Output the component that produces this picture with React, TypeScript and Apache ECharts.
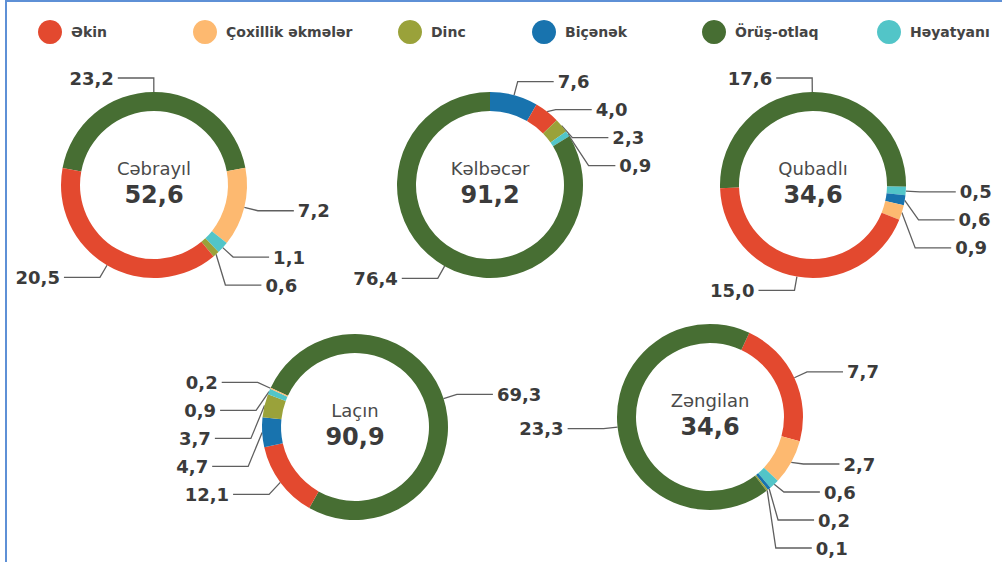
import React, { useEffect, useRef } from 'react';
import * as echarts from 'echarts';

// ---- data ----
const categories = ['Əkin', 'Çoxillik əkmələr', 'Dinc', 'Biçənək', 'Örüş-otlaq', 'Həyatyanı'];
const categoryColors = ['#e3492f', '#fdb970', '#9aa23a', '#1873ae', '#476e33', '#52c5c8'];

const regionNames = ['Cəbrayıl', 'Kəlbəcər', 'Qubadlı', 'Laçın', 'Zəngilan'];

const cebrayilOrder = ['Örüş-otlaq', 'Çoxillik əkmələr', 'Həyatyanı', 'Dinc', 'Əkin'];
const cebrayilValues = [23.2, 7.2, 1.1, 0.6, 20.5];

const kelbecerOrder = ['Biçənək', 'Əkin', 'Dinc', 'Həyatyanı', 'Örüş-otlaq'];
const kelbecerValues = [7.6, 4.0, 2.3, 0.9, 76.4];

const qubadliOrder = ['Örüş-otlaq', 'Həyatyanı', 'Biçənək', 'Çoxillik əkmələr', 'Əkin'];
const qubadliValues = [17.6, 0.5, 0.6, 0.9, 15.0];

const lacinOrder = ['Örüş-otlaq', 'Əkin', 'Biçənək', 'Dinc', 'Həyatyanı', 'Çoxillik əkmələr'];
const lacinValues = [69.3, 12.1, 4.7, 3.7, 0.9, 0.2];

const zengilanOrder = ['Əkin', 'Çoxillik əkmələr', 'Həyatyanı', 'Biçənək', 'Dinc', 'Örüş-otlaq'];
const zengilanValues = [7.7, 2.7, 0.6, 0.2, 0.1, 23.3];

const regionOrders = [cebrayilOrder, kelbecerOrder, qubadliOrder, lacinOrder, zengilanOrder];
const regionValues = [cebrayilValues, kelbecerValues, qubadliValues, lacinValues, zengilanValues];

// ---- layout (not data) ----
const pieCenters = [
  [154, 185],
  [490, 185],
  [813, 185],
  [355, 427],
  [710, 417],
];
const pieStartAngles = [169.5, 90, 182, 155, 65];
const legendLefts = [38, 193, 398, 532, 702, 877];

const FONT = '"DejaVu Sans", Verdana, sans-serif';

const fmt = (v: number) => v.toFixed(1).replace('.', ',');

export default function App() {
  const ref = useRef<HTMLDivElement>(null);

  useEffect(() => {
    if (!ref.current) return;
    const chart = echarts.init(ref.current, undefined, { renderer: 'svg' });
    const colorOf = (n: string) => categoryColors[categories.indexOf(n)];

    const series = regionNames.map((name, r) => ({
      type: 'pie',
      name,
      center: pieCenters[r],
      radius: [74, 93],
      startAngle: pieStartAngles[r],
      clockwise: true,
      avoidLabelOverlap: true,
      emphasis: { disabled: true },
      label: {
        show: true,
        position: 'outside',
        formatter: (p: any) => fmt(p.value),
        fontFamily: FONT,
        fontWeight: 'bold',
        fontSize: 18,
        lineHeight: 26,
        color: '#3b3b3b',
        alignTo: 'labelLine',
        distanceToLabelLine: 4,
      },
      labelLine: {
        show: true,
        length: 14,
        length2: 36,
        lineStyle: { color: '#5f5f5f', width: 1.3 },
      },
      itemStyle: { borderWidth: 0 },
      data: regionOrders[r].map((n, i) => ({
        name: n,
        value: regionValues[r][i],
        itemStyle: { color: colorOf(n) },
      })),
    }));

    const legends = categories.map((c, i) => ({
      show: true,
      left: legendLefts[i],
      top: 20,
      icon: 'circle',
      itemWidth: 24,
      itemHeight: 24,
      selectedMode: false,
      padding: 0,
      data: [c],
      textStyle: {
        fontFamily: FONT,
        fontWeight: 'bold',
        fontSize: 14,
        color: '#444',
        padding: [0, 0, 0, 4],
      },
    }));

    const centerTexts: any[] = [];
    regionNames.forEach((name, r) => {
      const total = regionValues[r].reduce((a, b) => a + b, 0);
      centerTexts.push({
        type: 'text',
        x: pieCenters[r][0],
        y: pieCenters[r][1] - 17,
        style: {
          text: name,
          fontFamily: FONT,
          fontSize: 18,
          fill: '#4a4a4a',
          align: 'center',
          verticalAlign: 'middle',
        },
      });
      centerTexts.push({
        type: 'text',
        x: pieCenters[r][0],
        y: pieCenters[r][1] + 10,
        style: {
          text: fmt(total),
          fontFamily: FONT,
          fontSize: 24,
          fontWeight: 'bold',
          fill: '#3b3b3b',
          align: 'center',
          verticalAlign: 'middle',
        },
      });
    });

    chart.setOption({
      animation: false,
      backgroundColor: '#ffffff',
      legend: legends,
      graphic: [
        { type: 'line', shape: { x1: 5, y1: 1, x2: 1002, y2: 1 }, style: { stroke: '#5e90d6', lineWidth: 2 } },
        { type: 'line', shape: { x1: 6, y1: 0, x2: 6, y2: 562 }, style: { stroke: '#5e90d6', lineWidth: 2 } },
        ...centerTexts,
      ],
      series,
    });

    return () => chart.dispose();
  }, []);

  return (
    <div
      ref={ref}
      style={{ position: 'fixed', left: 0, top: 0, width: 1002, height: 562, background: '#fff' }}
    />
  );
}
